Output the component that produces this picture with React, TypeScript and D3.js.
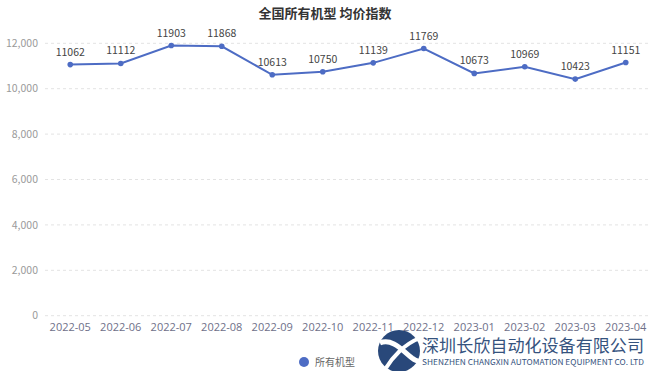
import * as d3 from "d3";

const months = [
  "2022-05", "2022-06", "2022-07", "2022-08", "2022-09", "2022-10",
  "2022-11", "2022-12", "2023-01", "2023-02", "2023-03", "2023-04",
];
const priceIndex = [11062, 11112, 11903, 11868, 10613, 10750, 11139, 11769, 10673, 10969, 10423, 11151];
const yTicks = [0, 2000, 4000, 6000, 8000, 10000, 12000];

const WIDTH = 650;
const HEIGHT = 371;
const LINE_COLOR = "#4d6cc4";
const FONT = "'Noto Sans CJK SC', 'Noto Sans', sans-serif";

export default function App() {
  const x = d3.scaleBand<string>().domain(months).range([45, 651]);
  const y = d3.scaleLinear().domain([0, 12000]).range([315.7, 43.3]);
  const cx = (m: string) => (x(m) ?? 0) + x.bandwidth() / 2;

  const line = d3
    .line<number>()
    .x((_, i) => cx(months[i]))
    .y((d) => y(d));

  return (
    <svg
      width={WIDTH}
      height={HEIGHT}
      style={{ position: "absolute", left: 0, top: 0, background: "#fff" }}
      fontFamily={FONT}
    >
      <text x={325} y={18} textAnchor="middle" fontSize={13} fontWeight="bold" fill="#333">
        全国所有机型 均价指数
      </text>

      {yTicks.map((t) => (
        <g key={t}>
          <line
            x1={45}
            x2={651}
            y1={y(t)}
            y2={y(t)}
            stroke="#e3e3e3"
            strokeDasharray="3,3"
          />
          <text x={38} y={y(t)} dy="0.35em" textAnchor="end" fontSize={10.5} fill="#9a9a9a">
            {d3.format(",")(t)}
          </text>
        </g>
      ))}

      {months.map((m) => (
        <text
          key={m}
          x={cx(m)}
          y={331}
          textAnchor="middle"
          fontSize={11}
          fill="#6e7089"
          fontFamily="'Open Sans', sans-serif"
        >
          {m}
        </text>
      ))}

      <path d={line(priceIndex) ?? ""} fill="none" stroke={LINE_COLOR} strokeWidth={2} />
      {priceIndex.map((v, i) => (
        <g key={months[i]}>
          <circle cx={cx(months[i])} cy={y(v)} r={2.8} fill={LINE_COLOR} />
          <text x={cx(months[i])} y={y(v) - 9} textAnchor="middle" fontSize={10.5} fill="#444">
            {v}
          </text>
        </g>
      ))}

      <circle cx={304} cy={362} r={5} fill="#4d6cc4" />
      <text x={315} y={362} dy="0.35em" fontSize={10} fill="#666">
        所有机型
      </text>

      {/* watermark logo */}
      <g opacity={0.95}>
        <circle cx={399} cy={351} r={21} fill="#1e3f73" />
        <path
          d="M380,343 C392,338 402,350 412,358 C416,361 420,362 422,360"
          fill="none"
          stroke="#fff"
          strokeWidth={5}
        />
        <path
          d="M386,368 C392,358 404,344 420,338"
          fill="none"
          stroke="#fff"
          strokeWidth={4}
        />
        <text
          x={422}
          y={352}
          fontSize={17}
          fill="#2b4a78"
          textLength={222}
          lengthAdjust="spacingAndGlyphs"
        >
          深圳长欣自动化设备有限公司
        </text>
        <text
          x={422}
          y={365}
          fontSize={8}
          fill="#2b4a78"
          textLength={222}
          lengthAdjust="spacingAndGlyphs"
        >
          SHENZHEN CHANGXIN AUTOMATION EQUIPMENT CO. LTD
        </text>
      </g>
    </svg>
  );
}
